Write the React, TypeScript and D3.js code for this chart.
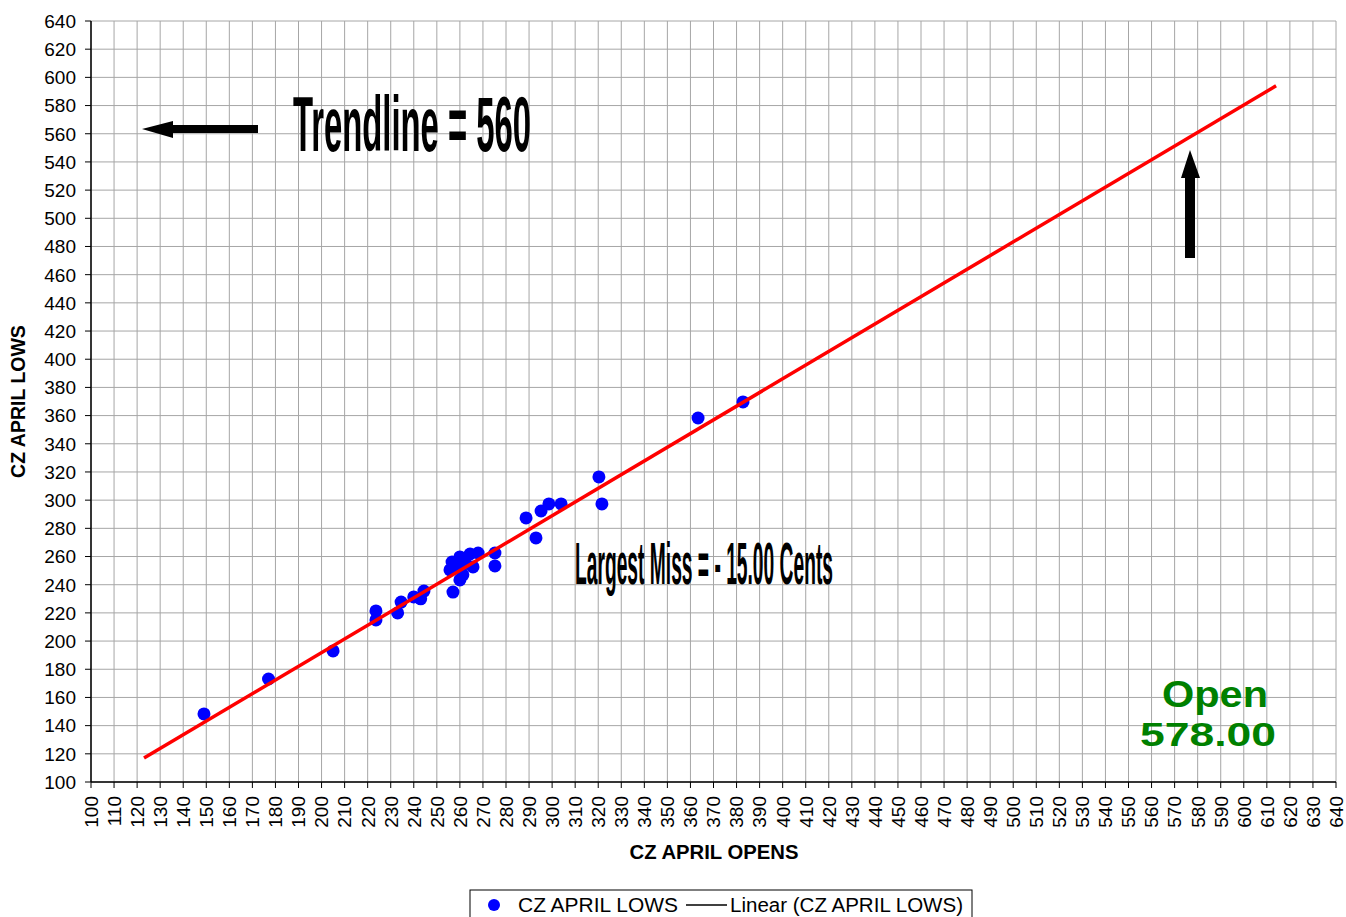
import React from "react";
import * as d3 from "d3";

const opens: number[] = [149, 177, 205, 223.6, 223.6, 233, 234.5, 240, 243, 244.4,
  255.7, 256.6, 257, 260, 260, 261.3, 264.4, 267.9, 265.7, 275.2, 275.2,
  288.7, 293, 295.2, 298.6, 303.9, 320.3, 321.6, 363.3, 382.8, 258.5, 262.5];
const lows: number[] = [148.3, 173.1, 193, 221.4, 215, 220, 227.7, 231.3, 230, 235.5,
  250.5, 256.1, 234.8, 259.7, 243.4, 247, 261.8, 262.5, 252.6, 262.5, 253.3,
  287.4, 273.2, 292.3, 297.3, 297.3, 316.5, 297.3, 358.3, 369.7, 252, 255];
const trendX: number[] = [123, 614];
const trendY: number[] = [117, 594];
const xTicks: number[] = d3.range(100, 641, 10);
const yTicks: number[] = d3.range(100, 641, 20);

const W = 1346, H = 917;
const L = 91, R = 1336, T = 21, B = 782;

export default function App() {
  const x = d3.scaleLinear().domain([100, 640]).range([L, R]);
  const y = d3.scaleLinear().domain([100, 640]).range([B, T]);
  const font = "Arial, 'Liberation Sans', sans-serif";
  const narrow = "'Liberation Sans Narrow', 'Arial Narrow', Arial, 'Liberation Sans', sans-serif";
  const line = d3.line<[number, number]>().x(d => x(d[0])).y(d => y(d[1]));
  const trendPts: [number, number][] = trendX.map((v, i) => [v, trendY[i]]);
  return (
    <svg width={W} height={H} style={{ position: "absolute", left: 0, top: 0, display: "block", background: "#fff" }}>
      {/* grid */}
      {xTicks.map(t => (
        <line key={"gx" + t} x1={x(t)} x2={x(t)} y1={T} y2={B} stroke="#a6a6a6" strokeWidth={1} />
      ))}
      {yTicks.map(t => (
        <line key={"gy" + t} x1={L} x2={R} y1={y(t)} y2={y(t)} stroke="#a6a6a6" strokeWidth={1} />
      ))}
      {/* axes */}
      <line x1={L} x2={L} y1={T} y2={B} stroke="#000" strokeWidth={1.5} />
      <line x1={L} x2={R} y1={B} y2={B} stroke="#000" strokeWidth={1.5} />
      {yTicks.map(t => (
        <g key={"yt" + t}>
          <line x1={L - 6} x2={L} y1={y(t)} y2={y(t)} stroke="#000" strokeWidth={1} />
          <text x={L - 15} y={y(t)} dy="0.36em" textAnchor="end" fontFamily={font} fontSize={19}>{t}</text>
        </g>
      ))}
      {xTicks.map(t => (
        <g key={"xt" + t}>
          <line x1={x(t)} x2={x(t)} y1={B} y2={B + 6} stroke="#000" strokeWidth={1} />
          <text transform={`translate(${x(t)},${B + 14}) rotate(-90)`} dy="0.36em" textAnchor="end" fontFamily={font} fontSize={19}>{t}</text>
        </g>
      ))}
      {/* axis titles */}
      <text transform={`translate(25,${(T + B) / 2}) rotate(-90)`} textAnchor="middle" fontFamily={font} fontWeight="bold" fontSize={19.5}>CZ APRIL LOWS</text>
      <text x={714} y={859} textAnchor="middle" fontFamily={font} fontWeight="bold" fontSize={19.5} textLength={169} lengthAdjust="spacingAndGlyphs">CZ APRIL OPENS</text>
      {/* points */}
      {opens.map((v, i) => (
        <circle key={"p" + i} cx={x(v)} cy={y(lows[i])} r={6.5} fill="#0000ff" />
      ))}
      {/* trendline */}
      <path d={line(trendPts) || ""} stroke="#ff0000" strokeWidth={3.5} fill="none" />
      {/* annotations */}
      <path d="M142,129 L173,121 L173,125 L258,125 L258,133 L173,133 L173,138 Z" fill="#000" />
      <path d="M1190,150 L1200,178 L1195,178 L1195,258 L1185,258 L1185,178 L1181,178 Z" fill="#000" />
      <text x={293} y={151} fontFamily={narrow} fontWeight="bold" fontSize={78} textLength={238} lengthAdjust="spacingAndGlyphs">Trendline = 560</text>
      <text x={575} y={584} fontFamily={narrow} fontWeight="bold" fontSize={60} textLength={258} lengthAdjust="spacingAndGlyphs">Largest Miss = - 15.00 Cents</text>
      <text x={1162} y={707} fontFamily={font} fontWeight="bold" fontSize={36} fill="#008000" textLength={106} lengthAdjust="spacingAndGlyphs">Open</text>
      <text x={1140} y={746} fontFamily={font} fontWeight="bold" fontSize={34} fill="#008000" textLength={136} lengthAdjust="spacingAndGlyphs">578.00</text>
      {/* legend */}
      <rect x={470} y={890} width={502} height={40} fill="#fff" stroke="#000" strokeWidth={1} />
      <circle cx={494} cy={905} r={6} fill="#0000ff" />
      <text x={518} y={905} dy="0.36em" fontFamily={font} fontSize={20} textLength={160} lengthAdjust="spacingAndGlyphs">CZ APRIL LOWS</text>
      <line x1={686} x2={727} y1={905} y2={905} stroke="#000" strokeWidth={1.5} />
      <text x={730} y={905} dy="0.36em" fontFamily={font} fontSize={20} textLength={233} lengthAdjust="spacingAndGlyphs">Linear (CZ APRIL LOWS)</text>
    </svg>
  );
}
